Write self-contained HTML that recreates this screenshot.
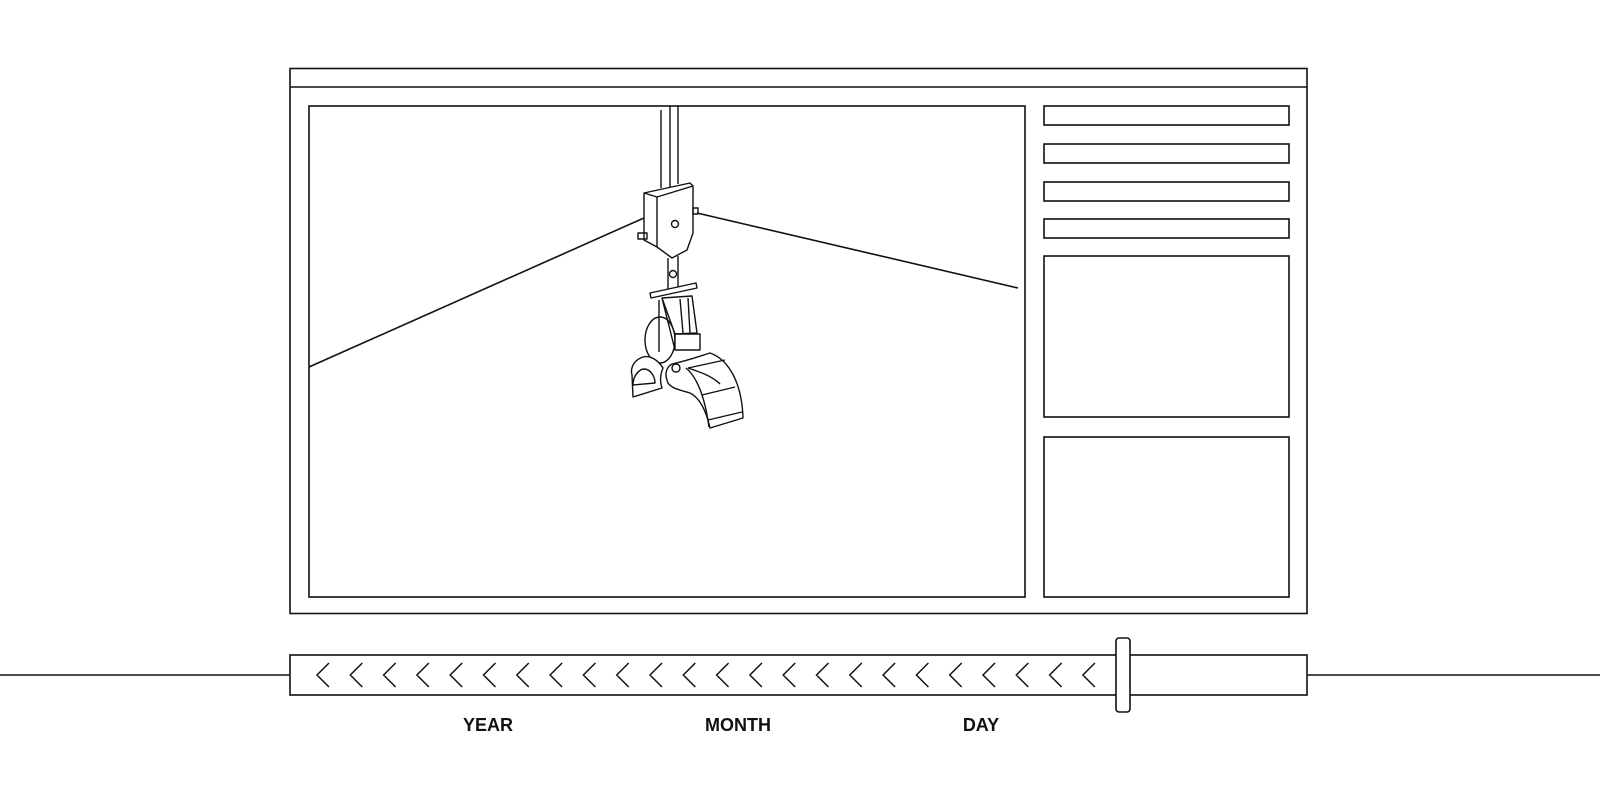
<!DOCTYPE html>
<html><head><meta charset="utf-8"><style>
html,body{margin:0;padding:0;background:#fff;width:1600px;height:800px;overflow:hidden}
svg{display:block}
text{font-family:"Liberation Sans",sans-serif;font-weight:bold;font-size:18px;fill:#111}
</style></head><body>
<svg width="1600" height="800" viewBox="0 0 1600 800" fill="none" stroke="#111" stroke-width="1.6">
<rect width="1600" height="800" fill="#fff" stroke="none"/>
<rect x="290" y="68.5" width="1017" height="545"/>
<line x1="290" y1="87" x2="1307" y2="87"/>
<rect x="309" y="106" width="716" height="491"/>
<rect x="1044" y="106" width="245" height="19"/>
<rect x="1044" y="144" width="245" height="19"/>
<rect x="1044" y="182" width="245" height="19"/>
<rect x="1044" y="219" width="245" height="19"/>
<rect x="1044" y="256" width="245" height="161"/>
<rect x="1044" y="437" width="245" height="160"/>
<line x1="309" y1="367" x2="644" y2="218"/>
<line x1="697" y1="213" x2="1018" y2="288"/>
<g stroke-width="1.4" stroke-linejoin="round">
<line x1="661" y1="110" x2="661" y2="188"/>
<line x1="670" y1="106" x2="670" y2="188"/>
<line x1="678" y1="106" x2="678" y2="184"/>
<polygon points="644,193 690,183 693,186 693,233 687,250 672,258 657,247 644,240" fill="#fff"/>
<polyline points="657,197 693,186"/>
<line x1="657" y1="197" x2="657" y2="247"/>
<line x1="644" y1="193" x2="657" y2="197"/>
<circle cx="675" cy="224" r="3.5"/>
<rect x="638" y="233" width="9" height="6"/>
<rect x="693" y="208" width="5" height="6"/>
<line x1="668" y1="258" x2="668" y2="293"/>
<line x1="678" y1="256" x2="678" y2="291"/>
<circle cx="673" cy="274" r="3.5"/>
<polygon points="650,293 696,283 697,288 651,298" fill="#fff"/>
<ellipse cx="660" cy="340" rx="15" ry="23" fill="#fff"/>
<line x1="659" y1="300" x2="659" y2="352"/>
<polygon points="662,298 692,296 697,333 675,334" fill="#fff"/>
<line x1="680" y1="299" x2="683" y2="333"/>
<line x1="688" y1="298" x2="690" y2="333"/>
<rect x="675" y="334" width="25" height="16" fill="#fff"/>
<line x1="662" y1="298" x2="675" y2="350"/>
<path d="M663,368 C658,360 650,355 643,357 C634,360 630,368 632,375 L633,397 L662,388 C660,382 660,375 663,368 Z" fill="#fff"/>
<path d="M633,385 C633,375 640,369 644,369 C650,369 655,376 655,383 Z"/>
<path d="M672,364 C690,360 700,356 710,353 C730,360 742,385 743,418 L710,428 C706,410 700,398 690,393 C680,390 668,388 667,380 C664,372 668,366 672,364 Z" fill="#fff"/>
<path d="M686,368 C698,378 705,398 709,427"/>
<path d="M688,368 C700,372 712,376 720,384"/>
<line x1="688" y1="368" x2="725" y2="360"/>
<line x1="702" y1="395" x2="735" y2="387"/>
<line x1="708" y1="420" x2="742" y2="412"/>
<circle cx="676" cy="368" r="4" fill="#fff"/>
</g>
<line x1="0" y1="675" x2="290" y2="675"/>
<line x1="1307" y1="675" x2="1600" y2="675"/>
<rect x="290" y="655" width="1017" height="40"/>
<g stroke-width="1.5">
<path d="M329,663 L317,675 L329,687 M362.3,663 L350.3,675 L362.3,687 M395.6,663 L383.6,675 L395.6,687 M428.9,663 L416.9,675 L428.9,687 M462.2,663 L450.2,675 L462.2,687 M495.5,663 L483.5,675 L495.5,687 M528.8,663 L516.8,675 L528.8,687 M562.1,663 L550.1,675 L562.1,687 M595.4,663 L583.4,675 L595.4,687 M628.7,663 L616.7,675 L628.7,687 M662,663 L650,675 L662,687 M695.3,663 L683.3,675 L695.3,687 M728.6,663 L716.6,675 L728.6,687 M761.9,663 L749.9,675 L761.9,687 M795.2,663 L783.2,675 L795.2,687 M828.5,663 L816.5,675 L828.5,687 M861.8,663 L849.8,675 L861.8,687 M895.1,663 L883.1,675 L895.1,687 M928.4,663 L916.4,675 L928.4,687 M961.7,663 L949.7,675 L961.7,687 M995,663 L983,675 L995,687 M1028.3,663 L1016.3,675 L1028.3,687 M1061.6,663 L1049.6,675 L1061.6,687 M1094.9,663 L1082.9,675 L1094.9,687"/>
</g>
<rect x="1116" y="638" width="14" height="74" rx="3" fill="#fff"/>
<g stroke="none">
<text x="488" y="731" text-anchor="middle">YEAR</text>
<text x="738" y="731" text-anchor="middle">MONTH</text>
<text x="981" y="731" text-anchor="middle">DAY</text>
</g>
</svg>
</body></html>
